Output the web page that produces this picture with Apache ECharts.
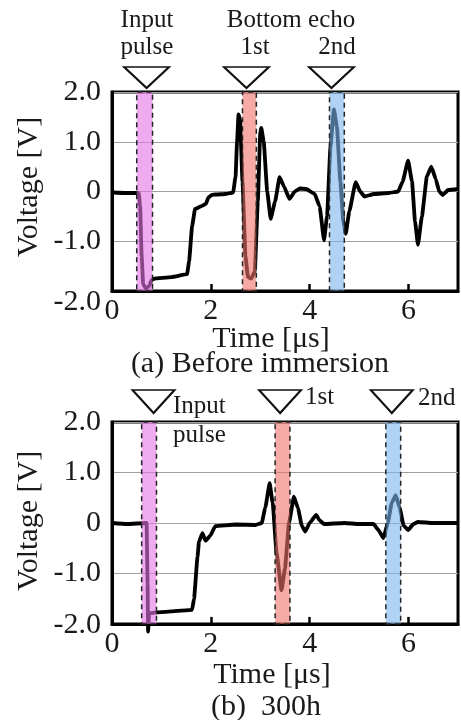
<!DOCTYPE html>
<html><head><meta charset="utf-8">
<script src="https://cdn.jsdelivr.net/npm/echarts@6/dist/echarts.min.js"></script>
<style>html,body{margin:0;padding:0;background:#fff}#c{width:461px;height:720px}</style>
</head><body><div id="c"></div>
<script>
// ---- data ----
const timeA = [0,0.3,0.54,0.57,0.6,0.63,0.68,0.75,0.8,0.85,1.2,1.52,1.56,1.62,1.68,1.8,1.9,1.95,2.02,2.1,2.3,2.45,2.5,2.53,2.56,2.59,2.64,2.7,2.75,2.82,2.89,2.95,3.0,3.02,3.07,3.14,3.21,3.3,3.39,3.48,3.59,3.7,3.8,3.93,4.1,4.2,4.29,4.35,4.42,4.49,4.55,4.62,4.68,4.73,4.8,4.93,5.02,5.11,5.3,5.6,5.79,5.88,5.99,6.07,6.13,6.19,6.27,6.37,6.46,6.55,6.62,6.69,6.8,7.0];
const voltA = [-0.02,-0.03,-0.03,-0.3,-1.3,-1.85,-1.95,-1.9,-1.78,-1.75,-1.72,-1.66,-1.4,-0.7,-0.35,-0.3,-0.25,-0.12,-0.07,-0.06,-0.05,-0.02,0.3,1.0,1.55,1.45,0.2,-1.3,-1.72,-1.75,-1.6,-0.2,1.2,1.28,1.0,0.0,-0.55,-0.2,0.29,0.1,-0.15,0.0,0.06,0.05,-0.05,-0.3,-0.98,-0.5,0.9,1.65,1.3,0.2,-0.6,-0.85,-0.4,0.19,0.0,-0.1,-0.05,-0.03,0.0,0.2,0.62,0.2,-0.6,-1.07,-0.5,0.3,0.5,0.25,0.0,-0.07,0.03,0.05];
const timeB = [0,0.3,0.7,0.72,0.73,0.75,0.8,1.2,1.62,1.66,1.73,1.76,1.83,1.89,1.99,2.09,2.5,2.9,3.03,3.1,3.19,3.25,3.33,3.43,3.5,3.58,3.68,3.76,3.84,3.91,4.0,4.13,4.2,4.29,4.7,5.0,5.29,5.4,5.49,5.58,5.66,5.74,5.82,5.9,5.99,6.1,6.19,6.5,7.0];
const voltB = [0.0,-0.02,0.0,-1.2,-2.15,-1.8,-1.78,-1.75,-1.72,-1.5,-0.67,-0.37,-0.2,-0.35,-0.25,-0.06,-0.03,-0.04,0.0,0.3,0.79,0.4,-0.6,-1.33,-0.9,0.0,0.52,0.3,-0.05,-0.17,0.0,0.16,0.05,-0.02,0.0,-0.02,-0.02,-0.15,-0.3,0.0,0.4,0.55,0.3,-0.05,-0.14,-0.02,0.02,0.0,0.0];
const bandsA = [[0.5,0.82],[2.64,2.92],[4.4,4.7]];
const bandsB = [[0.6,0.9],[3.3,3.6],[5.54,5.84]];
const markersA = [0.70,2.72,4.44];
const markersB = [0.84,3.40,5.66];
const xTicks = [2,4,6];
const xTickLabels = {0:'0',2:'2',4:'4',6:'6'};
const yTickLabels = {'-2':'-2.0','-1':'-1.0','0':'0','1':'1.0','2':'2.0'};
const bandColors = ['rgba(230,113,230,0.6)','rgba(238,113,105,0.6)','rgba(122,180,238,0.6)'];

// ---- chart ----
const FONT = '"Liberation Serif","Times New Roman",serif';
const TXT = '#1a1a1a';
const chart = echarts.init(document.getElementById('c'), null, {renderer:'canvas'});

function xAx(idx){
  return {gridIndex:idx, type:'value', min:0, max:7, interval:2, position:'bottom',
    axisLine:{show:true, onZero:false, lineStyle:{color:'#000', width:3}}, splitLine:{show:false},
    axisTick:{show:false},
    axisLabel:{margin:5, fontSize:30, fontFamily:FONT, color:TXT,
      formatter:v => (xTickLabels[v] !== undefined ? xTickLabels[v] : '')}};
}
function yAx(idx, shift){
  return {gridIndex:idx, type:'value', min:-2, max:2, interval:1, position:'left',
    axisLine:{show:true, onZero:false, lineStyle:{color:'#000', width:3}}, axisTick:{show:false},
    splitLine:{show:true, lineStyle:{color:'#a0a0a0', width:1}},
    axisLabel:{margin:11, fontSize:30, fontFamily:FONT, color:TXT,
      formatter:v => v === -2 ? '{low|' + yTickLabels[String(v)] + '}' : yTickLabels[String(v)],
      rich:{low:{fontSize:30, fontFamily:FONT, color:TXT, padding:[shift,0,0,0]}}}};
}
function wave(idx, t, v, bands, markers, off, size){
  return {type:'line', xAxisIndex:idx, yAxisIndex:idx, z:2, clip:false,
    data:t.map((x,i)=>[x,v[i]]), symbol:'none', smooth:0.12, smoothMonotone:'x',
    lineStyle:{color:'#000', width:3.8, join:'round'}, animation:false,
    markArea:{z:3, silent:true, label:{show:false},
      itemStyle:{borderColor:'#222', borderWidth:1.5, borderType:[5,4]},
      data:bands.map((b,i)=>[{xAxis:b[0], itemStyle:{color:bandColors[i], borderColor:'#222', borderWidth:1.5, borderType:[5,4]}},{xAxis:b[1]}])},
    markLine:{z:4, silent:true, animation:false, symbol:['none','none'], label:{show:false},
      lineStyle:{color:'#000', width:2.5, type:'solid'},
      data:xTicks.map(x=>[{coord:[x,-2]},{coord:[x,-1.86]}])},
    markPoint:{z:5, silent:true, animation:false, label:{show:false},
      data:markers.map(m=>({coord:[m,2], symbol:'triangle', symbolRotate:180,
        symbolSize:size, symbolOffset:[0,off],
        itemStyle:{color:'#fff', borderColor:'#111', borderWidth:2}}))}};
}
function txt(x,y,s,opt){
  return Object.assign({type:'text', x:x, y:y, silent:true,
    style:{text:s, fill:TXT, font:'30px ' + FONT, textAlign:'center', textVerticalAlign:'middle'}}, opt||{});
}
const ann = '25px ' + FONT;
function anno(x,y,s,align){
  return {type:'text', x:x, y:y, silent:true,
    style:{text:s, fill:TXT, font:ann, textAlign:align, textVerticalAlign:'middle'}};
}
chart.setOption({
  animation:false,
  grid:[
    {left:112, top:92, width:350, height:199, show:true, borderColor:'#000', borderWidth:3, backgroundColor:'transparent'},
    {left:112, top:422, width:350, height:202, show:true, borderColor:'#000', borderWidth:3, backgroundColor:'transparent'}
  ],
  xAxis:[xAx(0), xAx(1)],
  yAxis:[yAx(0,22), yAx(1,2)],
  series:[
    wave(0, timeA, voltA, bandsA, markersA, -14.5, [45,21]),
    wave(1, timeB, voltB, bandsB, markersB, -20.5, [42,23])
  ],
  graphic:[
    txt(29,187,'Voltage [V]',{rotation:Math.PI/2}),
    txt(29,521,'Voltage [V]',{rotation:Math.PI/2}),
    txt(271,339,'Time [μs]'),
    txt(272,675,'Time [μs]'),
    txt(260,364,'(a) Before immersion'),
    txt(266,707,'(b)  300h'),
    anno(147,20,'Input','center'),
    anno(147,47,'pulse','center'),
    anno(291,20,'Bottom echo','center'),
    anno(255,47,'1st','center'),
    anno(337,47,'2nd','center'),
    anno(173,406,'Input','left'),
    anno(173,435,'pulse','left'),
    anno(305,397,'1st','left'),
    anno(418,398,'2nd','left')
  ]
});
</script></body></html>
